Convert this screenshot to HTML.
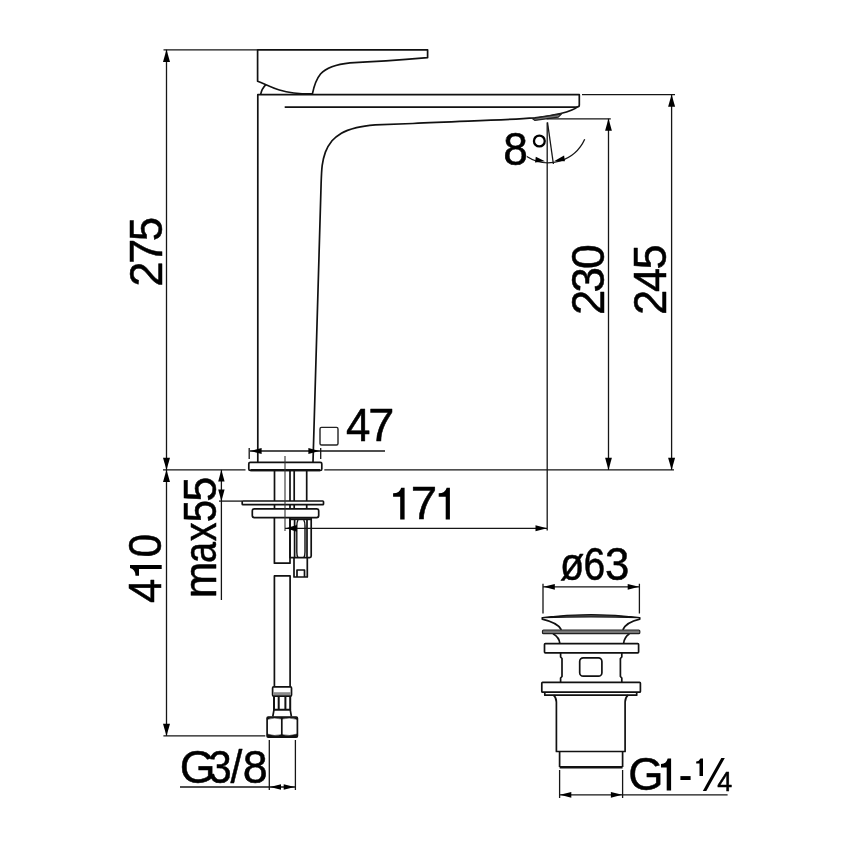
<!DOCTYPE html>
<html><head><meta charset="utf-8">
<style>
html,body{margin:0;padding:0;background:#fff;}
svg{display:block;will-change:transform;}
text{font-family:"Liberation Sans",sans-serif;fill:#000;}
.k{stroke:#111;stroke-width:1.7;fill:none;stroke-linecap:butt;stroke-linejoin:round;}
.t{stroke:#151515;stroke-width:1.3;fill:none;}
.a{fill:#000;stroke:none;}
</style></head><body>
<svg width="850" height="850" viewBox="0 0 850 850">
<rect width="850" height="850" fill="#fff"/>

<!-- ===== FAUCET BODY ===== -->
<g class="k">
<!-- handle -->
<path d="M257.6 49.8 H427.6 V57.7 C400 60 370 62 350 62.9 C335 64.5 326 68 320.5 74 C316 79.5 314 86 312.4 93.9 C297 94 286 92 279.4 90 C270 87 264 83.5 257.6 81.2 Z"/>
<path d="M265.9 84.7 C263 87.5 261.3 91 260.6 94.7"/>
<!-- body -->
<path d="M257.8 462 V94.7 H579.3 V105 Q579.3 106.9 577.5 106.9 C574.5 109.5 567 112 560.7 113.5 C553 115.3 544 116.7 535 117.9 C500 120.4 460 121.1 412.9 123.5 C395 124.2 385 124.4 375.3 124.8 C368 125.4 362 126.2 356.5 127.6 C350 129.3 345 131 341.4 133.3 C337 136 334 138.5 332 140.8 C329 144.5 327 148 325.4 152.1 C323.8 156.5 322.8 161 322.2 165.3 C321.5 171 321.3 178 321.1 184.1 L313 462"/>
<path d="M284.7 107.2 H577.5"/>
</g>
<!-- aerator -->
<path d="M532.3 118.6 L561.6 113.8 L558.3 117.2 L535 120.4 Z" fill="#777" stroke="#222" stroke-width="1.2" stroke-linejoin="round"/>

<!-- ===== BELOW DECK ===== -->
<g class="k">
<rect x="248.8" y="462.3" width="73" height="8.1" rx="1.5"/>
<path d="M250.6 470.1 H320" stroke-width="2.3"/>
<path d="M274.5 470.4 V501 M290 470.4 V501 M294.2 470.4 V501 M306.7 470.4 V501"/>
<rect x="242.2" y="501" width="81.3" height="3.7" rx="0.8"/>
<path d="M274.5 504.7 V508.8 M290 504.7 V508.8 M294.2 504.7 V508.8 M306.7 504.7 V508.8"/>
<rect x="252.3" y="508.8" width="66.4" height="8.8" rx="2"/>
<!-- left rod -->
<path d="M274.4 517.6 V563.2 H290 V517.6"/>
<!-- hex nut -->
<path d="M290 517.6 V557.6 H309.7 Q311.2 557.6 311.2 556 V517.6"/>
<path d="M294.6 519.5 V557.6 M307 519.5 V557.6"/>
<path d="M298 520 Q296.8 522 296.8 526 V552 Q296.8 556 298 557.6 M303.8 520 Q305 522 305 526 V552 Q305 556 303.8 557.6" stroke-width="1.4"/>
<path d="M290 519.2 H311.2" stroke-width="2"/>
<path d="M294 557.6 V577 H307.3 V557.6"/>
<path d="M297 577 V570 H304.5 V577"/>
<!-- hose -->
<path d="M274.4 687 V575.9 H290.1 V687"/>
<rect x="272.6" y="686.9" width="18.9" height="9.1" rx="1"/>
<rect x="274" y="696" width="16.2" height="13.7" stroke-width="2"/>
<path d="M278.7 696 V709.7 M285.4 696 V709.7" stroke-width="2"/>
<path d="M274 709.7 L272.8 716.5 M290.2 709.7 L291.4 716.5"/>
<rect x="267.1" y="717" width="30.3" height="20.2" rx="1.2"/>
<path d="M281.8 717 V737"/>
<path d="M267.3 717.3 H297.2 V719.4 Q289.5 717 281.8 719 Q274 717 267.3 719.4 Z" fill="#111" stroke-width="0.5"/>
<path d="M267.3 737 H297.2 V734 Q289.5 736.6 281.8 734.6 Q274 736.6 267.3 734 Z" fill="#111" stroke-width="0.5"/>
</g>
<rect x="273.4" y="692.2" width="17.3" height="3.2" fill="#8a8a8a"/>

<!-- ===== DIMENSION LINES ===== -->
<g class="t">
<!-- 275 -->
<path d="M163.5 49.8 H257.6"/>
<path d="M166.5 49.8 V469.9"/>
<!-- base line -->
<path d="M163 469.9 H245.5 M324.3 469.9 H674"/>
<!-- 410 -->
<path d="M166.5 469.9 V735.8"/>
<path d="M163.4 735.8 H265.3"/>
<!-- max55 -->
<path d="M221.4 469.9 V600"/>
<path d="M219 501.1 H242.2"/>
<!-- 47 -->
<path d="M249.2 448 V459 M320.7 448 V459"/>
<path d="M250 451 H385"/>
<!-- centre line -->
<path d="M285 456 V531" stroke-width="1.1" stroke="#333"/>
<!-- 171 -->
<path d="M285 528.3 H547"/>
<path d="M547.2 122.4 V530.6"/>
<!-- 8 deg -->
<path d="M547.5 122.4 L553.4 164"/>
<path d="M526.8 156.5 A40 40 0 0 0 584.7 139.3"/>
<!-- 230 -->
<path d="M546.6 118.8 H610.8"/>
<path d="M608.5 118.8 V469.9"/>
<!-- 245 -->
<path d="M582 94.6 H675"/>
<path d="M671.6 94.6 V469.9"/>
<!-- G3/8 -->
<path d="M269.3 740 V790 M295.4 740 V790"/>
<path d="M180 787 H295.4"/>
<!-- d63 -->
<path d="M543 583.7 V613.5 M639.4 583.7 V613.5"/>
<path d="M543 586.8 H639.4"/>
<!-- G1 1/4 -->
<path d="M559.6 770 V798 M622.6 770 V798"/>
<path d="M559.6 794.8 H727.6"/>
</g>
<circle cx="539.35" cy="141" r="5.4" fill="none" stroke="#000" stroke-width="2.3"/>
<!-- small square -->
<rect x="320" y="427.4" width="18" height="17.6" rx="1.5" fill="none" stroke="#222" stroke-width="1.4"/>

<!-- arrows -->
<g class="a">
<path d="M166.5 49.6 L163.0 61.9 H170.0 Z"/>
<path d="M166.5 470.1 L163.0 457.8 H170.0 Z"/>
<path d="M166.5 469.7 L163.0 482 H170.0 Z"/>
<path d="M166.5 736 L163.0 723.7 H170.0 Z"/>
<path d="M221.4 469.7 L218.2 481.6 H224.6 Z"/>
<path d="M221.4 501.3 L218.2 489.4 H224.6 Z"/>
<path d="M250.6 451 L261.6 448 V454 Z"/>
<path d="M319.4 451 L308.4 448 V454 Z"/>
<path d="M286 528.3 L296.8 524.9 V531.7 Z"/>
<path d="M547 528.3 L535.5 525.3 V531.3 Z"/>
<path d="M608.5 118.6 L605.1 130.8 H611.9 Z"/>
<path d="M608.5 470.1 L605.1 457.7 H611.9 Z"/>
<path d="M671.6 94.4 L668.1 106.7 H675.1 Z"/>
<path d="M671.6 470.1 L668.1 457.7 H675.1 Z"/>
<path d="M545 161.3 L535 162.6 L535.8 156.8 Z"/>
<path d="M554.4 161 L564.9 161.2 L564.1 155.6 Z"/>
<path d="M270 787 L281 784.2 V789.8 Z"/>
<path d="M294.7 787 L283.7 784.2 V789.8 Z"/>
<path d="M543.5 586.8 L554.8 583.9 V589.7 Z"/>
<path d="M639 586.8 L627.7 583.9 V589.7 Z"/>
<path d="M560 794.8 L571.3 791.9 V797.7 Z"/>
<path d="M622.2 794.8 L610.9 791.9 V797.7 Z"/>
</g>

<!-- ===== DRAIN ===== -->
<g class="k">
<path d="M542.3 617.6 Q591 611.6 639.7 617.6 Q591 616 542.3 617.6 Z" fill="#555" stroke-width="1.3"/>
<path d="M542.3 617.4 V619.2 C552 621.5 559 625 561.4 629.8 M639.7 617.4 V619.2 C630 621.5 625 625 622.8 629.8"/>
<path d="M553 633.7 C557 636 559.5 639 559.8 643.4 M629.4 633.7 C626 636 624 639 623.6 643.4"/>
<rect x="544.5" y="643.7" width="94.1" height="9.1" rx="0.8"/>
<path d="M560.6 652.8 V657 L562 658.5 V676.5 L560.6 678 V682.4 M621.8 652.8 V657 L620.4 658.5 V676.5 L621.8 678 V682.4"/>
<rect x="579.7" y="657.9" width="22.2" height="18.3" rx="3.5"/>
<rect x="541.8" y="682.4" width="98.6" height="9.8" rx="0.8"/>
<path d="M544.8 692.2 V695.2 H636.7 V692.2"/>
<path d="M553.5 695.2 C555.5 697 556.4 699 556.4 702 V751.5 H625.1 V702 C625.1 699 626 697 628 695.2"/>
<path d="M559.6 751.5 V767 M622.6 751.5 V767"/>
</g>
<rect x="542.5" y="630" width="97.3" height="3.7" rx="1" fill="#777" stroke="#222" stroke-width="1.2"/>
<path d="M559.6 767.2 H622.6" stroke="#111" stroke-width="2.4"/>

<!-- ===== TEXT ===== -->
<!--TEXTSTART-->
<g stroke="#000" stroke-width="0.5" stroke-linejoin="round">
<text font-size="45.50" transform="translate(161.70 286.80) rotate(-90)" textLength="25.28" lengthAdjust="spacingAndGlyphs">2</text>
<text font-size="45.50" transform="translate(161.70 263.80) rotate(-90)" textLength="25.00" lengthAdjust="spacingAndGlyphs">7</text>
<text font-size="45.50" transform="translate(161.70 241.25) rotate(-90)" textLength="24.35" lengthAdjust="spacingAndGlyphs">5</text>
<text font-size="45.50" transform="translate(161.40 603.05) rotate(-90)" textLength="24.39" lengthAdjust="spacingAndGlyphs">4</text>
<text font-size="45.50" transform="translate(161.40 557.55) rotate(-90)" textLength="23.77" lengthAdjust="spacingAndGlyphs">0</text>
<text font-size="45.50" transform="translate(215.90 598.25) rotate(-90)" textLength="36.66" lengthAdjust="spacingAndGlyphs">m</text>
<text font-size="45.50" transform="translate(215.90 562.95) rotate(-90)" textLength="21.04" lengthAdjust="spacingAndGlyphs">a</text>
<text font-size="45.50" transform="translate(215.90 541.25) rotate(-90)" textLength="18.81" lengthAdjust="spacingAndGlyphs">x</text>
<text font-size="45.50" transform="translate(215.90 522.35) rotate(-90)" textLength="22.34" lengthAdjust="spacingAndGlyphs">5</text>
<text font-size="45.50" transform="translate(215.90 501.70) rotate(-90)" textLength="25.22" lengthAdjust="spacingAndGlyphs">5</text>
<text font-size="45.50" transform="translate(603.90 315.10) rotate(-90)" textLength="25.29" lengthAdjust="spacingAndGlyphs">2</text>
<text font-size="45.50" transform="translate(603.90 292.55) rotate(-90)" textLength="25.51" lengthAdjust="spacingAndGlyphs">3</text>
<text font-size="45.50" transform="translate(603.90 269.00) rotate(-90)" textLength="24.65" lengthAdjust="spacingAndGlyphs">0</text>
<text font-size="45.50" transform="translate(666.10 315.10) rotate(-90)" textLength="25.29" lengthAdjust="spacingAndGlyphs">2</text>
<text font-size="45.50" transform="translate(666.10 292.00) rotate(-90)" textLength="24.12" lengthAdjust="spacingAndGlyphs">4</text>
<text font-size="45.50" transform="translate(666.10 269.50) rotate(-90)" textLength="25.20" lengthAdjust="spacingAndGlyphs">5</text>
<text font-size="45.50" x="346.10" y="440.50" textLength="24.39" lengthAdjust="spacingAndGlyphs">4</text>
<text font-size="45.50" x="368.25" y="440.50" textLength="26.14" lengthAdjust="spacingAndGlyphs">7</text>
<text font-size="45.50" x="410.85" y="519.20" textLength="26.45" lengthAdjust="spacingAndGlyphs">7</text>
<text font-size="45.50" x="503.25" y="164.70" textLength="24.64" lengthAdjust="spacingAndGlyphs">8</text>
<text font-size="45.50" x="179.85" y="782.90" textLength="35.83" lengthAdjust="spacingAndGlyphs">G</text>
<text font-size="45.50" x="208.45" y="782.90" textLength="23.21" lengthAdjust="spacingAndGlyphs">3</text>
<text font-size="45.50" x="230.55" y="782.90" textLength="11.82" lengthAdjust="spacingAndGlyphs">/</text>
<text font-size="45.50" x="242.85" y="782.90" textLength="24.93" lengthAdjust="spacingAndGlyphs">8</text>
<text font-size="45.50" x="559.90" y="580.30" textLength="24.18" lengthAdjust="spacingAndGlyphs">ø</text>
<text font-size="45.50" x="583.55" y="580.30" textLength="21.79" lengthAdjust="spacingAndGlyphs">6</text>
<text font-size="45.50" x="605.00" y="580.30" textLength="24.35" lengthAdjust="spacingAndGlyphs">3</text>
<text font-size="45.50" x="628.20" y="790.30" textLength="35.26" lengthAdjust="spacingAndGlyphs">G</text>
<text font-size="28.22" x="717.15" y="790.60" textLength="14.96" lengthAdjust="spacingAndGlyphs">4</text>
</g>
<g fill="#000" stroke="none">
<path transform="translate(0 519.5)" d="M404.60 -31.70 V0 H400.20 V-22.70 H393.10 V-26.20 Q399.60 -26.20 401.20 -31.70 Z"/>
<path transform="translate(0 519.5)" d="M449.90 -31.70 V0 H445.70 V-22.70 H438.70 V-26.20 Q445.10 -26.20 446.70 -31.70 Z"/>
<path transform="translate(161.7 575.8) rotate(-90)" d="M10.80 -31.70 V0 H6.80 V-22.70 H0.00 V-26.20 Q6.20 -26.20 7.80 -31.70 Z"/>
<path transform="translate(0 790.5)" d="M671.10 -32.10 V0 H666.70 V-22.99 H661.00 V-26.53 Q666.10 -26.53 667.70 -32.10 Z"/>
<rect x="680.4" y="776.1" width="10.2" height="3.9"/>
<path transform="translate(0 776)" d="M703.00 -17.60 V0 H699.50 V-12.60 H696.20 V-14.55 Q698.90 -14.55 700.50 -17.60 Z"/>
<path d="M702.8 791 L706.3 791 L724.8 758 L721.3 758 Z"/>
</g>
<!--TEXTEND-->
</svg>
</body></html>
